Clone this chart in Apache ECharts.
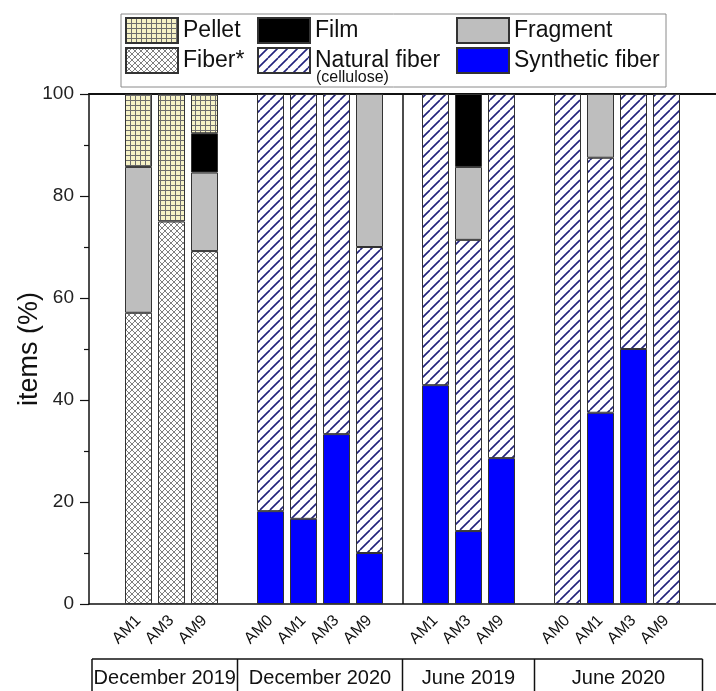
<!DOCTYPE html>
<html>
<head>
<meta charset="utf-8">
<script src="https://cdn.jsdelivr.net/npm/echarts@6/dist/echarts.min.js"></script>
<style>
html,body{margin:0;padding:0;background:#fff;}
#c{width:716px;height:691px;}
</style>
</head>
<body>
<div id="c"></div>
<script>
// ---- data (blank categories are the empty slots between sampling campaigns) ----
const categories = ['', 'AM1', 'AM3', 'AM9', '', 'AM0', 'AM1', 'AM3', 'AM9', '', 'AM1', 'AM3', 'AM9', '', 'AM0', 'AM1', 'AM3', 'AM9', ''];
const groups = ['December 2019', 'December 2020', 'June 2019', 'June 2020'];
const fiberStar = [null, 57.1, 75.0, 69.2, null, null, null, null, null, null, null, null, null, null, null, null, null, null, null];
const syntheticFiber = [null, null, null, null, null, 18.2, 16.7, 33.3, 10.0, null, 42.9, 14.3, 28.6, null, null, 37.5, 50.0, null, null];
const naturalFiber = [null, null, null, null, null, 81.8, 83.3, 66.7, 60.0, null, 57.1, 57.1, 71.4, null, 100, 50.0, 50.0, 100, null];
const fragment = [null, 28.6, null, 15.4, null, null, null, null, 30.0, null, null, 14.3, null, null, null, 12.5, null, null, null];
const film = [null, null, null, 7.7, null, null, null, null, null, null, null, 14.3, null, null, null, null, null, null, null];
const pellet = [null, 14.3, 25.0, 7.7, null, null, null, null, null, null, null, null, null, null, null, null, null, null, null];
const yTicks = [0, 20, 40, 60, 80, 100];

// ---- fill patterns ----
function makePattern(size, bg, color, lw, kinds) {
  const c = document.createElement('canvas');
  c.width = size; c.height = size;
  const g = c.getContext('2d');
  g.fillStyle = bg; g.fillRect(0, 0, size, size);
  g.strokeStyle = color; g.lineWidth = lw; g.beginPath();
  kinds.forEach(function (k) {
    if (k === '/') { [-size, 0, size].forEach(function (o) { g.moveTo(o, size); g.lineTo(o + size, 0); }); }
    if (k === '\\') { [-size, 0, size].forEach(function (o) { g.moveTo(o, 0); g.lineTo(o + size, size); }); }
    if (k === '|') { g.moveTo(0.5, 0); g.lineTo(0.5, size); }
    if (k === '-') { g.moveTo(0, 0.5); g.lineTo(size, 0.5); }
  });
  g.stroke();
  return { image: c, repeat: 'repeat' };
}
const patNatural = makePattern(10, '#ffffff', '#23237c', 1.6, ['/']);
const patFiber = makePattern(6, '#ffffff', '#707070', 0.9, ['/', '\\']);
const patPellet = makePattern(5, '#f6f2c6', '#6e6e6e', 1, ['|', '-']);

const FONT = '"Liberation Sans", Arial, sans-serif';
const border = { borderColor: '#333', borderWidth: 1 };

// blank slots separating the campaigns
const gapIdx = categories.map(function (c, i) { return c === '' ? i : -1; }).filter(function (i) { return i > 0 && i < categories.length - 1; });

function barSeries(name, data, color, extra) {
  return Object.assign({
    name: name, type: 'bar', stack: 'total', data: data, barWidth: 27,
    itemStyle: Object.assign({ color: color }, border),
    emphasis: { disabled: true }, animation: false
  }, extra || {});
}

const option = {
  animation: false,
  textStyle: { fontFamily: FONT },
  grid: { left: 89, right: 0, top: 94, bottom: 87, containLabel: false },
  legend: [
    { data: ['Pellet', 'Fiber*'], left: 125 },
    { data: ['Film', 'Natural fiber'], left: 257 },
    { data: ['Fragment', 'Synthetic fiber'], left: 456 }
  ].map(function (l) {
    return Object.assign({
      orient: 'vertical', top: 17, padding: 0, itemGap: 3, itemWidth: 52, itemHeight: 25,
      icon: 'rect', selectedMode: false,
      textStyle: { fontSize: 23, color: '#111', fontFamily: FONT }
    }, l);
  }),
  xAxis: [
    {
      type: 'category', data: categories, position: 'bottom',
      axisLine: { lineStyle: { color: '#111', width: 1.5 } },
      axisTick: { show: false },
      axisLabel: { rotate: 45, margin: 14, fontSize: 16, color: '#111', fontFamily: FONT, interval: 0 },
      splitLine: { show: false }
    },
    {
      type: 'category', data: categories, position: 'top',
      axisLine: { lineStyle: { color: '#111', width: 2 } },
      axisTick: { show: false }, axisLabel: { show: false }, splitLine: { show: false }
    }
  ],
  yAxis: {
    type: 'value', min: yTicks[0], max: yTicks[yTicks.length - 1], interval: yTicks[1] - yTicks[0],
    name: 'items (%)', nameLocation: 'middle', nameGap: 46, nameMoveOverlap: false,
    nameTextStyle: { fontSize: 27, color: '#111', fontFamily: FONT },
    axisLine: { show: true, lineStyle: { color: '#111', width: 1.5 } },
    axisTick: { show: true, length: 9, lineStyle: { color: '#111', width: 1.2 } },
    minorTick: { show: true, splitNumber: 2, length: 5, lineStyle: { color: '#111', width: 1.2 } },
    axisLabel: { fontSize: 19, color: '#222', margin: 15, fontFamily: FONT },
    splitLine: { show: false }
  },
  series: [
    barSeries('Fiber*', fiberStar, patFiber),
    barSeries('Synthetic fiber', syntheticFiber, '#0000ff'),
    barSeries('Natural fiber', naturalFiber, patNatural, {
      markLine: {
        silent: true, symbol: 'none', label: { show: false },
        lineStyle: { color: '#111', width: 1.5, type: 'solid' },
        data: [{ xAxis: gapIdx[1] }]
      }
    }),
    barSeries('Fragment', fragment, '#bebebe'),
    barSeries('Film', film, '#000000'),
    barSeries('Pellet', pellet, patPellet)
  ]
};

const chart = echarts.init(document.getElementById('c'), null, { renderer: 'canvas' });
chart.setOption(option);

// ---- legend frame, "(cellulose)" note and campaign table below the axis ----
const y0 = chart.convertToPixel({ yAxisIndex: 0 }, 0);
const xs = function (i) { return chart.convertToPixel({ xAxisIndex: 0 }, i); };
const tableTop = y0 + 55;
const tableBottom = tableTop + 38;
const leftEdge = 89 + 3;
const rightEdge = xs(categories.length - 1) + 3;
const edges = [leftEdge].concat(gapIdx.map(xs)).concat([rightEdge]);
const graphics = [
  { type: 'rect', z: 0, shape: { x: 121, y: 14, width: 545, height: 73 }, style: { fill: '#fff', stroke: '#8a8a8a', lineWidth: 1 } },
  { type: 'text', z: 10, x: 316, y: 70, style: { text: '(cellulose)', font: '16px ' + FONT, fill: '#111' } },
  { type: 'line', shape: { x1: leftEdge, y1: tableTop, x2: rightEdge, y2: tableTop }, style: { stroke: '#111', lineWidth: 1.5 } },
  { type: 'line', shape: { x1: leftEdge, y1: tableBottom, x2: rightEdge, y2: tableBottom }, style: { stroke: '#111', lineWidth: 1.5 } }
];
edges.forEach(function (x) {
  graphics.push({ type: 'line', shape: { x1: x, y1: tableTop, x2: x, y2: tableBottom }, style: { stroke: '#111', lineWidth: 1.5 } });
});
groups.forEach(function (g, i) {
  graphics.push({
    type: 'text', x: (edges[i] + edges[i + 1]) / 2, y: (tableTop + tableBottom) / 2,
    style: { text: g, font: '20px ' + FONT, fill: '#111', align: 'center', verticalAlign: 'middle' }
  });
});
chart.setOption({ graphic: graphics });
</script>
</body>
</html>
